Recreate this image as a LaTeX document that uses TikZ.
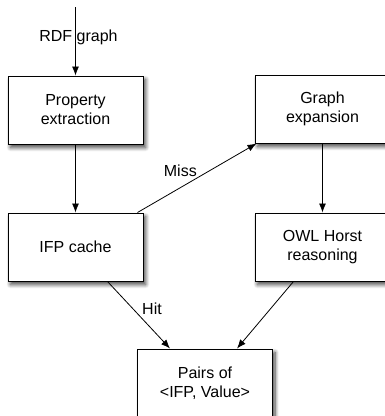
\documentclass[tikz,border=0pt]{standalone}
\usepackage{fontspec}
\setmainfont{Liberation Sans}
\usetikzlibrary{arrows.meta,positioning,shadows.blur}

\begin{document}
\begin{tikzpicture}[x=1pt,y=1pt,>={Latex[length=9pt,width=7pt]},
  stage/.style={draw, line width=1pt, rectangle, fill=white, minimum width=135pt, minimum height=68pt, align=center, font=\fontsize{16}{19}\selectfont, blur shadow={shadow xshift=2.5pt, shadow yshift=-3.5pt, shadow blur steps=8, shadow blur radius=4pt, shadow opacity=75}},
  lbl/.style={font=\fontsize{16}{19}\selectfont}]
        \useasboundingbox (0,0) rectangle (385,-416);
        \node[stage] (prop) at (75.5,-110) {Property\\extraction};
        \node[stage, below = 68pt of prop] (ifp) {IFP cache};
        \node[stage, right = 111pt of prop, yshift=1pt] (expand) {Graph\\expansion};
        \node[stage, below = 69pt of expand] (owl) {OWL Horst\\reasoning};
        \node[stage] (pairs) at (205,-383) {Pairs of\\<IFP, Value>};
        \coordinate (in) at (75.5,-7);
        
        \draw [->, line width=0.8pt] (in) -- node[lbl, pos=0.45, xshift=3pt] {RDF graph} (prop);
        \draw [->, line width=0.8pt] (prop) -- (ifp);
        \draw [->, line width=0.8pt] (expand) -- (owl);
        \draw [->, line width=0.8pt] ([xshift=-6pt]ifp.north east) -- node[lbl, pos=0.36, above=7pt] {Miss} ([xshift=2pt]expand.south west);
        \draw [->, line width=0.8pt] ([xshift=32pt]ifp.south) -- node[lbl, pos=0.4, right=6pt] {Hit} ([xshift=-35pt]pairs.north);
        \draw [->, line width=0.8pt] ([xshift=-29pt]owl.south) -- ([xshift=32pt]pairs.north);
\end{tikzpicture}
\end{document}
